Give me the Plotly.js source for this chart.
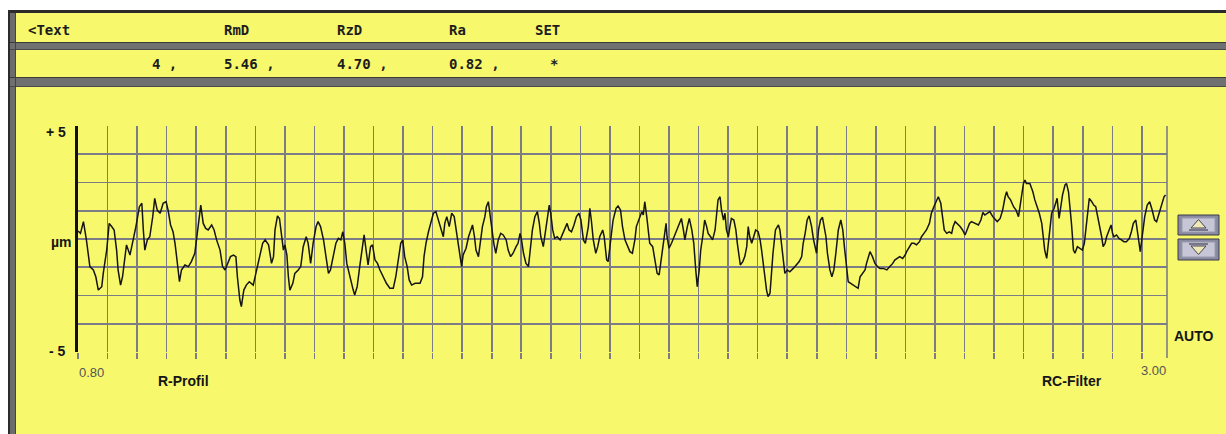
<!DOCTYPE html>
<html><head><meta charset="utf-8">
<script src="https://cdn.plot.ly/plotly-3.0.1.min.js"></script>
<style>html,body{margin:0;padding:0;background:#fff;overflow:hidden}#chart{width:1226px;height:434px}</style>
</head><body><div id="chart"></div>
<script>
// ---- data ----
const headerLabels = ['<Text', 'RmD', 'RzD', 'Ra', 'SET'];
const headerValues = ['4 ,', '5.46 ,', '4.70 ,', '0.82 ,', '*'];
const yAxisLabels = ['+ 5', 'µm', '- 5'];
const xRangeLabels = ['0.80', '3.00'];
const profileName = 'R-Profil';
const filterName = 'RC-Filter';
const scaleMode = 'AUTO';
const xRange = [0.80, 3.00];
const yRange = [-5, 5];
const gridYValues = [-3.75, -2.5, -1.25, 0, 1.25, 2.5, 3.75];

const profileX = [
0.800,0.805,0.811,0.817,0.824,0.831,0.836,0.841,0.848,0.851,0.858,0.863,0.868,0.873,0.878,0.881,0.886,0.890,0.895,0.898,
0.905,0.910,0.917,0.924,0.929,0.932,0.935,0.940,0.945,0.951,0.955,0.960,0.966,0.972,0.978,0.982,0.987,0.992,0.996,1.000,
1.005,1.009,1.016,1.023,1.029,1.036,1.040,1.045,1.048,1.053,1.058,1.063,1.070,1.075,1.080,1.087,1.092,1.097,1.103,1.108,
1.114,1.119,1.122,1.127,1.130,1.135,1.140,1.146,
1.154,1.161,1.168,1.173,1.178,1.185,1.191,1.195,1.198,1.203,1.207,1.211,1.215,1.218,1.222,1.225,1.228,1.234,1.238,1.245,
1.250,1.255,1.261,1.265,1.270,1.275,1.281,1.285,1.290,1.296,1.301,1.306,1.310,1.316,1.321,1.326,1.331,1.335,1.339,1.343,
1.349,1.356,1.359,1.364,1.370,1.374,1.378,1.382,1.386,1.391,1.395,1.400,1.405,1.410,1.417,1.423,1.430,1.437,1.442,1.447,
1.452,1.456,1.460,1.465,1.469,1.474,1.481,1.491,1.496,1.499,1.503,1.508,
1.511,1.518,1.523,1.528,1.533,1.538,1.541,1.545,1.550,1.555,1.560,1.564,1.568,1.572,1.575,1.578,1.584,1.589,1.593,1.597,
1.601,1.604,1.609,1.613,1.617,1.622,1.625,1.629,1.632,1.636,1.640,1.644,1.649,1.654,1.659,1.665,1.669,1.674,1.679,1.685,
1.689,1.693,1.696,1.700,1.705,1.710,1.714,1.718,1.723,1.728,1.732,1.735,1.740,1.743,1.747,1.752,1.755,1.759,1.763,1.768,
1.774,1.779,1.784,1.788,1.792,1.797,1.802,1.807,1.812,1.816,1.821,1.825,1.831,1.834,1.837,1.841,1.846,1.850,1.854,1.860,
1.863,1.868,
1.871,1.876,1.881,1.887,1.891,1.896,1.900,1.905,1.910,1.915,1.920,1.925,1.928,1.934,1.939,1.942,1.945,1.949,1.952,1.955,
1.961,1.966,1.970,1.974,1.979,1.982,1.988,1.990,1.994,1.999,2.004,2.009,2.015,2.019,2.023,2.026,2.031,2.035,2.040,2.044,
2.048,2.051,2.055,2.058,2.062,2.066,2.070,2.073,2.078,2.082,2.087,2.090,2.093,2.097,2.100,2.104,2.107,2.110,2.114,2.117,
2.120,2.125,2.129,2.132,2.136,2.138,2.143,2.147,2.151,2.154,2.157,2.161,2.165,2.169,2.174,2.178,2.181,2.184,2.188,2.191,
2.194,2.198,2.201,2.204,2.209,2.215,2.218,2.221,2.225,2.228,2.233,
2.238,2.245,2.252,2.257,2.262,2.265,2.269,2.273,2.277,2.282,2.286,2.289,2.292,2.296,2.300,2.304,2.308,2.311,2.314,2.319,
2.323,2.327,2.331,2.336,2.341,2.345,2.349,2.353,2.356,2.361,2.366,2.372,2.376,2.380,2.385,2.390,2.393,2.397,2.400,2.405,
2.410,2.415,2.420,2.427,2.434,2.440,2.446,2.450,2.455,2.460,2.466,2.471,2.474,2.479,2.484,2.489,2.494,2.500,2.504,2.509,
2.514,2.520,2.524,2.529,2.533,2.538,2.543,2.547,2.550,2.555,2.560,2.565,2.568,2.572,2.576,2.582,2.587,2.592,2.596,2.601,
2.605,2.612,2.619,2.624,2.628,2.632,2.637,2.642,2.648,2.652,2.657,2.663,2.668,2.673,2.676,2.679,2.684,2.690,2.695,2.700,
2.703,2.706,2.710,2.713,2.716,2.723,2.729,2.733,2.738,2.742,2.747,2.750,2.753,2.757,2.760,2.764,2.767,2.772,2.776,2.778,
2.782,2.786,2.789,2.794,2.797,2.801,2.804,2.807,2.811,2.814,2.819,2.824,2.829,2.833,2.836,2.840,2.843,2.848,2.852,2.856,
2.861,2.864,2.868,2.871,2.875,2.878,2.883,2.887,2.890,2.893,2.898,2.903,2.908,2.913,2.918,2.924,2.928,2.932,2.937,2.940,
2.944,2.946,2.949,2.952,2.955,2.960,2.965,2.970,2.975,2.979,2.984,2.989,2.994,2.997
];
const profileY = [
0.35,0.25,0.77,-0.04,-1.22,-1.37,-1.67,-2.26,-2.11,-1.52,-0.49,0.69,0.55,0.40,-0.49,-1.37,-2.04,-1.67,-0.78,-0.26,
-0.71,-0.19,0.55,1.43,1.58,0.40,-0.49,-0.04,0.10,0.99,1.80,1.28,1.14,1.58,1.65,1.28,0.62,0.32,-0.19,-0.93,
-1.89,-1.37,-1.15,-1.22,-1.00,-0.63,0.10,0.99,1.50,0.69,0.47,0.40,0.62,0.40,-0.04,-0.49,-1.22,-1.37,-1.08,-0.78,
-0.71,-0.78,-1.67,-2.70,-2.99,-2.26,-2.04,-1.89,
-2.04,-1.37,-0.78,-0.19,-0.04,-0.26,-1.08,-0.78,0.40,1.02,0.91,0.10,-0.49,-0.26,-0.71,-1.67,-2.26,-1.96,-1.52,-1.37,
-1.22,-0.34,0.10,-0.19,-1.08,-0.19,0.55,0.77,0.55,-0.04,-0.78,-1.52,-1.37,-0.78,-0.19,0.03,-0.04,0.32,-0.19,-1.08,
-1.67,-2.26,-2.48,-2.11,-1.08,-0.34,0.18,-0.49,-1.15,-0.34,-0.26,-0.93,-1.08,-1.37,-1.67,-1.96,-2.18,-2.18,-1.67,-0.93,
-0.19,-0.04,-0.78,-1.22,-1.81,-2.04,-1.96,-1.96,-1.67,-0.78,-0.19,0.32,
0.55,1.14,1.21,0.84,0.40,0.10,0.69,0.99,0.55,1.14,0.99,0.40,-0.19,-0.78,-1.22,-0.71,-0.41,0.10,0.40,0.62,
0.10,-0.49,-0.78,-0.04,0.55,0.99,1.43,1.65,1.14,0.40,-0.19,-0.63,-0.04,0.25,0.18,-0.04,-0.49,-0.78,-0.63,-0.34,
-0.19,0.25,-0.04,-0.63,-1.08,-1.22,-0.49,0.40,0.99,1.21,0.69,0.10,-0.34,0.10,0.84,1.50,1.14,0.40,0.03,0.10,
-0.04,0.25,0.55,0.69,0.40,0.32,0.62,0.99,1.14,0.84,-0.04,-0.19,0.55,1.36,0.84,-0.04,-0.63,-0.34,0.10,0.40,
0.10,-0.93,
-1.00,-0.04,0.84,1.36,1.46,1.28,0.55,-0.04,-0.34,-0.56,-0.63,-0.04,0.55,0.91,1.21,1.06,1.65,0.99,0.25,-0.19,
-0.34,-0.93,-1.52,-1.59,-0.78,-0.19,0.69,0.10,-0.41,-0.19,0.10,0.32,0.69,0.91,0.40,-0.04,0.55,0.91,0.40,-0.19,
-1.37,-2.11,-1.37,-0.49,0.10,0.84,0.55,0.25,0.10,-0.04,0.40,0.99,1.73,1.87,1.28,0.84,1.14,0.40,0.10,0.55,
0.91,0.84,0.40,-0.19,-0.93,-1.15,-1.00,-0.78,-0.34,0.55,0.10,-0.19,0.10,0.40,0.32,-0.04,-0.49,-1.08,-1.67,-2.26,
-2.55,-2.40,-1.52,-0.63,0.40,0.62,0.40,-0.19,-0.93,-1.52,-1.37,
-1.45,-1.30,-1.15,-1.00,-0.78,-0.19,0.25,0.84,1.02,0.55,-0.04,-0.34,-0.63,0.40,0.84,0.96,0.55,0.10,-0.63,-1.37,
-1.67,-1.37,-0.63,0.40,0.84,0.40,-0.49,-1.37,-1.89,-1.96,-2.04,-2.11,-2.18,-1.67,-1.52,-1.37,-1.08,-0.78,-0.56,-0.78,
-1.08,-1.22,-1.30,-1.30,-1.37,-1.22,-1.08,-0.93,-0.86,-0.78,-0.86,-0.71,-0.56,-0.34,-0.19,-0.19,-0.26,-0.12,0.10,0.25,
0.40,0.69,1.14,1.43,1.65,1.87,1.58,0.99,0.40,0.25,0.32,0.25,0.55,0.77,0.69,0.55,0.40,0.18,0.40,0.69,
0.77,0.69,0.62,0.84,1.17,1.06,1.14,1.21,0.99,0.91,0.77,0.91,1.28,1.87,2.09,1.87,1.73,1.43,1.28,0.99,
1.43,1.95,2.46,2.61,2.46,2.46,2.09,1.73,1.43,1.14,0.69,-0.04,-0.49,-0.86,-0.19,0.55,1.14,1.36,1.65,1.80,
0.91,1.43,1.95,2.39,2.46,2.09,1.43,0.69,-0.49,-0.63,-0.34,-0.41,-0.49,-0.19,0.40,1.14,1.80,1.65,1.50,1.43,
0.91,0.55,0.10,-0.34,-0.19,0.10,0.40,0.62,0.25,0.10,0.18,0.03,-0.04,-0.12,-0.12,0.03,0.32,0.69,0.84,0.40,
-0.34,-0.56,-0.04,0.55,0.99,1.50,1.65,1.28,0.84,0.77,1.14,1.50,1.87,1.95
];

// ---- geometry helpers (pixel -> paper) ----
const L = 78, R = 1167, T = 126, B = 352;
const PX = v => (v - L) / (R - L);
const PY = v => (B - v) / (B - T);
const YELLOW = '#f8f86c';
const GRID = '#7c7c86';

function rect(x0, y0, x1, y1, fill, lineColor, lw) {
  return {type: 'rect', xref: 'paper', yref: 'paper', layer: 'above',
    x0: PX(x0), x1: PX(x1), y0: PY(y1), y1: PY(y0),
    fillcolor: fill, line: {color: lineColor || fill, width: lw || 0}};
}
function seg(x0, y0, x1, y1, color, w) {
  return {type: 'line', xref: 'paper', yref: 'paper', layer: 'above',
    x0: PX(x0), x1: PX(x1), y0: PY(y0), y1: PY(y1), line: {color: color, width: w}};
}
function poly(pts, fill, lineColor) {
  const d = pts.map((p, i) => (i ? 'L' : 'M') + PX(p[0]).toFixed(5) + ',' + PY(p[1]).toFixed(5)).join(' ') + ' Z';
  return {type: 'path', xref: 'paper', yref: 'paper', layer: 'above', path: d,
    fillcolor: fill, line: {color: lineColor, width: 1}};
}
function ann(text, x, y, font, xanchor) {
  return {text: text, xref: 'paper', yref: 'paper', x: PX(x), y: PY(y),
    xanchor: xanchor || 'left', yanchor: 'middle', showarrow: false, font: font};
}

const shapes = [
  rect(0, 0, 1226, 11, '#ffffff'),
  rect(0, 0, 8, 434, '#ffffff'),
  rect(8, 10, 1226, 13, '#2b2b2b'),
  rect(8, 10, 10, 434, '#2b2b2b'),
  rect(10, 13, 16, 434, '#6c6c6c'),
  rect(10, 42, 1226, 50, '#707070'),
  seg(10, 42.5, 1226, 42.5, '#3a3a3a', 1),
  seg(10, 49.5, 1226, 49.5, '#4a4a4a', 1),
  rect(10, 77, 1226, 87, '#707070'),
  seg(10, 77.5, 1226, 77.5, '#3a3a3a', 1),
  seg(10, 86.5, 1226, 86.5, '#4a4a4a', 1),
  seg(15.5, 13, 15.5, 434, '#444444', 1),
  // right grid border
  seg(R, T, R, B + 6, GRID, 1.6),
  // up button
  rect(1178, 215, 1219, 235, '#8a8aa0', '#3a3a4a', 1),
  rect(1182, 218, 1215, 232, '#c6c6d6', '#9a9ab0', 1),
  poly([[1198.5, 219.5], [1206, 228], [1191, 228]], '#efe9b8', '#444455'),
  seg(1189, 230, 1208, 230, '#444455', 1.2),
  // down button
  rect(1178, 239, 1219, 260, '#8a8aa0', '#3a3a4a', 1),
  rect(1182, 242, 1215, 257, '#c6c6d6', '#9a9ab0', 1),
  poly([[1191, 246], [1206, 246], [1198.5, 254.5]], '#efe9b8', '#444455'),
  seg(1189, 244, 1208, 244, '#444455', 1.2)
];

const monoFont = {family: 'DejaVu Sans Mono, monospace', size: 14, color: '#1c1c1c', weight: 'bold'};
const boldFont = {family: 'Liberation Sans Narrow, Liberation Sans, Arial, sans-serif', size: 14, color: '#151515', weight: 'bold'};
const thinFont = {family: 'Liberation Sans, Arial, sans-serif', size: 13, color: '#555555'};

const headerX = [26, 222, 335, 447, 533];
const valueX = [150, 222, 335, 447, 548];
const annotations = [];
headerLabels.forEach((t, i) => annotations.push(ann(t, headerX[i], 30, monoFont)));
headerValues.forEach((t, i) => annotations.push(ann(t, valueX[i], 64, monoFont)));
annotations.push(ann(yAxisLabels[0], 68, 132, boldFont, 'right'));
annotations.push(ann(yAxisLabels[1], 74, 242, boldFont, 'right'));
annotations.push(ann(yAxisLabels[2], 68, 351, boldFont, 'right'));
annotations.push(ann(xRangeLabels[0], 77, 372, thinFont));
annotations.push(ann(xRangeLabels[1], 1168, 370, thinFont, 'right'));
annotations.push(ann(profileName, 156, 381, boldFont));
annotations.push(ann(filterName, 1040, 381, boldFont));
annotations.push(ann(scaleMode, 1172, 336, boldFont));

const trace = {
  x: profileX, y: profileY, type: 'scatter', mode: 'lines',
  line: {color: '#151515', width: 1.5}, hoverinfo: 'skip'
};

const layout = {
  width: 1226, height: 434,
  margin: {l: L, r: 1226 - R, t: T, b: 434 - B, pad: 0},
  paper_bgcolor: YELLOW, plot_bgcolor: YELLOW,
  showlegend: false,
  xaxis: {range: xRange, tickmode: 'linear', tick0: 0.80, dtick: 0.0597,
    showgrid: true, gridcolor: GRID, gridwidth: 1.6, zeroline: false,
    showticklabels: false, ticks: 'outside', ticklen: 6, tickwidth: 1.6, tickcolor: GRID,
    showline: false, fixedrange: true},
  yaxis: {range: yRange, tickmode: 'array', tickvals: gridYValues,
    showgrid: true, gridcolor: GRID, gridwidth: 1.6, zeroline: false,
    showticklabels: false, ticks: '', showline: true, linecolor: '#111111', linewidth: 3,
    fixedrange: true},
  shapes: shapes,
  annotations: annotations
};

Plotly.newPlot('chart', [trace], layout, {staticPlot: true, displayModeBar: false});
</script>
</body></html>
